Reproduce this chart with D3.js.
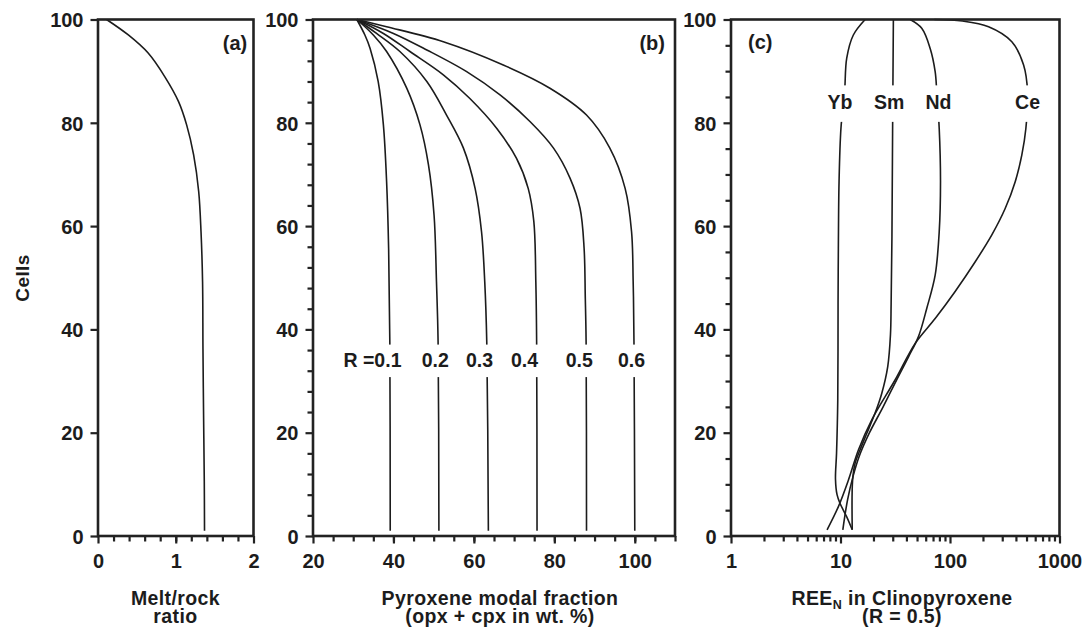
<!DOCTYPE html>
<meta charset="utf-8">
<style>
body { margin: 0; background: #fff; }
text { font-family: "Liberation Sans", Arial, sans-serif; font-weight: bold; fill: #1c1c1c; }
.tick line { stroke: #222; stroke-width: 2.2px; }
.domain { display: none; }
.curve { fill: none; stroke: #1c1c1c; stroke-width: 1.6px; }
.frame { fill: none; stroke: #222; stroke-width: 2.6px; }
.ttl { letter-spacing: 0.4px; }
</style>
<body>
<svg width="1086" height="630"></svg>
<script src="https://d3js.org/d3.v7.min.js"></script>
<script>

// ---- data ----
// (a) melt/rock ratio vs cell
var cellsA = [100, 97, 93.5, 88.9, 84.1, 79.6, 73.8, 66.7, 58.9, 49.2, 36.3, 23.4, 10.5, 1];
var meltRock = [0.11, 0.39, 0.645, 0.86, 1.036, 1.14, 1.23, 1.295, 1.325, 1.345, 1.35, 1.358, 1.367, 1.37];

// (b) pyroxene modal fraction, [cell, wt%]
var pyxR01 = [[100,30.9],[97.0,32.9],[94.4,34.2],[88.0,36.2],[79.6,37.5],[68.6,38.3],[55.7,38.8],[37.6,39.1],[1,39.2]];
var pyxR02 = [[100,30.9],[97.0,35.0],[93.8,38.3],[86.7,43.3],[79.6,46.6],[71.9,48.7],[62.1,50.1],[49.2,50.7],[37.6,51.1],[1,51.3]];
var pyxR03 = [[100,30.9],[97.3,35.8],[93.8,41.6],[88.0,48.3],[81.5,53.2],[75.1,57.4],[67.3,60.3],[58.9,61.9],[49.2,62.7],[37.6,63.2],[1,63.6]];
var pyxR04 = [[100,30.9],[97.3,37.5],[93.8,44.1],[89.3,52.4],[84.7,59.0],[78.9,65.7],[73.1,70.6],[67.3,73.5],[60.9,74.9],[49.2,75.4],[37.6,75.6],[1,75.7]];
var pyxR05 = [[100,30.9],[97.3,40.0],[94.1,48.3],[89.9,58.2],[85.4,66.5],[80.2,74.0],[75.1,79.8],[69.3,83.9],[63.4,86.4],[55.7,87.4],[46,87.7],[37.6,87.9],[1,88.0]];
var pyxR06 = [[100,30.9],[98.6,38.3],[95.7,52.4],[91.2,67.3],[86.7,78.9],[81.5,88.0],[75.1,93.8],[67.3,97.6],[58.9,99.2],[49.2,99.6],[37.6,99.8],[1,100]];
var rLabels = ["R =0.1", "0.2", "0.3", "0.4", "0.5", "0.6"];
var rLabelX = [42.0, 50.4, 61.4, 72.6, 86.2, 99.2];
var rLabelAnchor = ["end", "middle", "middle", "middle", "middle", "middle"];
var rLabelCell = 32.8;

// (c) REE_N in clinopyroxene, [cell, value]
var reeYb = [[100,16.8],[97,13.1],[92.5,11.4],[86,10.9],[79,10.1],[68.6,9.7],[55.7,9.56],[45,9.5],[26.3,9.44],[16,9.2],[11,9.0],[8,9.3],[6.3,9.91],[3.7,11.4],[1.2,12.8]];
var reeSm = [[100,30.4],[78,29.9],[58,29.5],[45,29.0],[39,28.6],[32.8,27.0],[27.6,23.8],[23.8,20.7],[19.9,17.4],[16.7,15.1],[14.1,13.6],[10.8,12.9],[1.2,12.8]];
var reeNd = [[100,43.3],[98.3,55.2],[94.4,65.9],[89.9,73.2],[86,75.7],[78.9,79.7],[68.6,81.9],[58.9,79.7],[50.5,73.2],[44.1,61.4],[38.6,51.5],[34.7,41.8],[30.2,32.5],[25,24.5],[19.9,18.3],[15.4,14.8],[11.5,13.0],[7,11.6],[1.2,10.5]];
var reeCe = [[100,72],[99.7,130],[98.6,225],[95.7,367],[91.2,470],[86,511],[78.9,493],[73.8,453],[68.6,394],[63.4,319],[58.3,241],[53.1,170],[47.3,111],[42.1,73.2],[37.3,48.1],[30.2,31.5],[22.5,19.3],[16.7,14.6],[10.8,11.8],[5.7,9.57],[1.2,7.54]];
var reeLabels = ["Yb", "Sm", "Nd", "Ce"];
var reeLabelX = [9.9, 27.8, 78.5, 511];
var reeLabelCell = 82.6;

// axis ticks
var cellTicks = [0, 20, 40, 60, 80, 100];
var ratioTicks = [0, 1, 2];
var pyxTicks = [20, 40, 60, 80, 100];
var reeTicks = [1, 10, 100, 1000];

// ---- layout ----
var svg = d3.select("svg");

var y = d3.scaleLinear().domain([0, 100]).range([536, 19.5]);
var xa = d3.scaleLinear().domain([0, 2]).range([98, 253.5]);
var xb = d3.scaleLinear().domain([20, 110]).range([313, 675]);
var xc = d3.scaleLog().domain([1, 1000]).range([731, 1059.5]);

function yAxis(x, minor) {
  var x0 = x.range()[0];
  if (minor.length) {
    svg.append("g")
      .attr("transform", "translate(" + x0 + ",0)")
      .call(d3.axisLeft(y).tickValues(minor).tickSize(5.5).tickFormat(""));
  }
  var g = svg.append("g")
    .attr("transform", "translate(" + x0 + ",0)")
    .call(d3.axisLeft(y).tickValues(cellTicks).tickSize(7.5).tickPadding(7));
  g.selectAll("text").style("font-size", "20px").attr("dy", "0.36em");
}

function xAxis(x, major, minor, fmt) {
  svg.append("g")
    .attr("transform", "translate(0," + y(0) + ")")
    .call(d3.axisBottom(x).tickValues(minor).tickSize(5.5).tickFormat(""));
  var g = svg.append("g")
    .attr("transform", "translate(0," + y(0) + ")")
    .call(d3.axisBottom(x).tickValues(major).tickSize(7.5).tickPadding(10.5).tickFormat(fmt));
  g.selectAll("text").style("font-size", "20px");
}

function frame(x) {
  svg.append("rect").attr("class", "frame")
    .attr("x", x.range()[0]).attr("y", y(100))
    .attr("width", x.range()[1] - x.range()[0])
    .attr("height", y(0) - y(100));
}

var lineOf = function(x) {
  return d3.line().x(function(d) { return x(d[1]); }).y(function(d) { return y(d[0]); })
    .curve(d3.curveCatmullRom.alpha(0.5));
};

// label with a white knock-out behind it
function knockLabel(txt, px, py, anchor, padTop, padBot) {
  var t = svg.append("text").attr("x", px).attr("y", py)
    .attr("text-anchor", anchor).style("font-size", "19.5px").text(txt);
  var b = t.node().getBBox();
  svg.insert("rect", function() { return t.node(); })
    .attr("x", b.x - 2).attr("y", b.y - padTop)
    .attr("width", b.width + 4).attr("height", b.height + padTop + padBot)
    .attr("fill", "#fff");
}

// ---- panel (a) ----
var aData = cellsA.map(function(c, i) { return [c, meltRock[i]]; });
svg.append("path").attr("class", "curve").attr("d", lineOf(xa)(aData));
yAxis(xa, []);
xAxis(xa, ratioTicks, d3.range(0.2, 2, 0.2), d3.format("d"));
frame(xa);

// ---- panel (b) ----
var pyxCurves = [pyxR01, pyxR02, pyxR03, pyxR04, pyxR05, pyxR06];
pyxCurves.forEach(function(c) {
  svg.append("path").attr("class", "curve").attr("d", lineOf(xb)(c));
});
rLabels.forEach(function(l, i) {
  knockLabel(l, xb(rLabelX[i]), y(rLabelCell), rLabelAnchor[i], 4, 6.5);
});
yAxis(xb, d3.range(0, 101, 4).filter(function(v) { return v % 20; }));
xAxis(xb, pyxTicks, d3.range(25, 111, 5), d3.format("d"));
frame(xb);

// ---- panel (c) ----
var reeCurves = [reeYb, reeSm, reeNd, reeCe];
reeCurves.forEach(function(c) {
  svg.append("path").attr("class", "curve").attr("d", lineOf(xc)(c));
});
reeLabels.forEach(function(l, i) {
  knockLabel(l, xc(reeLabelX[i]), y(reeLabelCell), "middle", 6, 8.5);
});
var reeMinor = [];
[1, 10, 100].forEach(function(d) { for (var k = 2; k <= 9; k++) reeMinor.push(d * k); });
yAxis(xc, d3.range(0, 101, 5).filter(function(v) { return v % 20; }));
xAxis(xc, reeTicks, reeMinor, d3.format("d"));
frame(xc);

// ---- panel tags ----
svg.append("text").attr("x", xa(1.92)).attr("y", y(94.1)).attr("text-anchor", "end").style("font-size", "20px").text("(a)");
svg.append("text").attr("x", xb(107.5)).attr("y", y(94.1)).attr("text-anchor", "end").style("font-size", "20px").text("(b)");
svg.append("text").attr("x", xc(1.43)).attr("y", y(94.3)).attr("text-anchor", "start").style("font-size", "20px").text("(c)");

// ---- axis titles ----
svg.append("text").attr("class", "ttl").attr("transform", "translate(29,278) rotate(-90)")
  .attr("text-anchor", "middle").style("font-size", "19px").text("Cells");

function title(lines, cx) {
  lines.forEach(function(l, i) {
    svg.append("text").attr("class", "ttl").attr("x", cx).attr("y", 605 + i * 18)
      .attr("text-anchor", "middle").style("font-size", "19.5px").text(l);
  });
}
title(["Melt/rock", "ratio"], 175.5);
title(["Pyroxene modal fraction", "(opx + cpx in wt. %)"], 500);

var t = svg.append("text").attr("class", "ttl").attr("x", 902).attr("y", 605).attr("text-anchor", "middle").style("font-size", "19.5px");
t.append("tspan").text("REE");
t.append("tspan").attr("dy", 4).style("font-size", "12.5px").text("N");
t.append("tspan").attr("dy", -4).text(" in Clinopyroxene");
svg.append("text").attr("class", "ttl").attr("x", 902).attr("y", 623).attr("text-anchor", "middle").style("font-size", "19.5px").text("(R = 0.5)");

</script>
</body>
